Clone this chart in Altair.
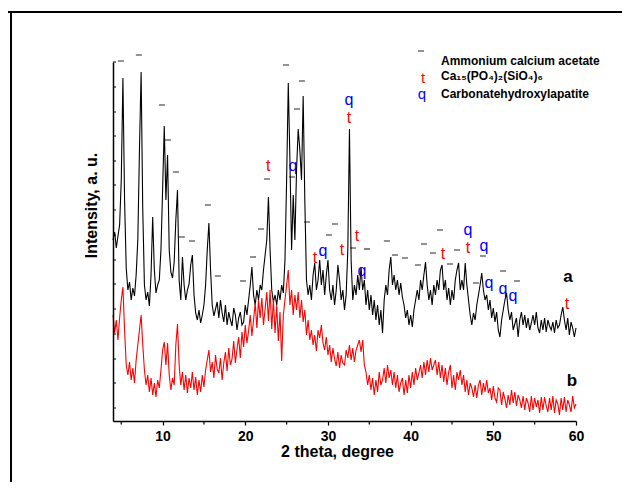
import altair as alt
import pandas as pd

FONT = "Liberation Sans"

# 2-theta sampling grid (degrees), step 0.2
theta = [round(4.0 + 0.2 * i, 1) for i in range(281)]

# trace a (black), intensity a.u.
black_a = [
    181, 189, 173, 185, 196, 241, 343, 221, 153, 131,
    139, 121, 133, 125, 146, 181, 271, 349, 211, 136,
    121, 129, 115, 146, 204, 151, 128, 136, 141, 171,
    231, 295, 221, 266, 171, 149, 143, 159, 201, 231,
    141, 121, 164, 136, 121, 131, 137, 156, 166, 126,
    108, 101, 111, 98, 106, 116, 136, 171, 198, 151,
    116, 105, 112, 119, 103, 121, 108, 99, 116, 96,
    109, 101, 95, 113, 106, 91, 103, 109, 96, 99,
    116, 106, 121, 136, 154, 126, 116, 131, 121, 136,
    131, 151, 166, 181, 224, 171, 131, 119, 126, 116,
    131, 121, 136, 128, 161, 241, 338, 261, 171, 226,
    181, 251, 292, 271, 241, 325, 221, 141, 126, 136,
    121, 146, 158, 131, 141, 161, 136, 151, 126, 146,
    161, 131, 121, 136, 116, 131, 156, 141, 121, 131,
    111, 126, 171, 292, 161, 121, 136, 126, 146, 131,
    154, 131, 141, 116, 131, 111, 126, 106, 121, 101,
    116, 96, 111, 88, 121, 136, 126, 151, 164, 136,
    146, 131, 141, 126, 138, 124, 116, 103, 111, 96,
    106, 94, 111, 121, 131, 121, 141, 131, 146, 159,
    136, 121, 131, 116, 136, 126, 141, 131, 151, 156,
    131, 141, 121, 133, 116, 131, 121, 141, 151, 158,
    131, 141, 131, 158, 136, 121, 106, 96, 108, 101,
    116, 126, 136, 148, 131, 121, 126, 111, 121, 103,
    113, 99, 109, 91, 84, 101, 111, 121, 128, 111,
    101, 109, 91, 97, 103, 84, 101, 109, 96, 106,
    93, 103, 91, 98, 106, 96, 109, 93, 88, 101,
    91, 103, 89, 101, 95, 91, 99, 88, 101, 93,
    96, 106, 114, 101, 91, 103, 86, 99, 93, 84,
    93,
]

# trace b (red)
red_b = [
    106, 88, 101, 81, 103, 121, 134, 91, 56, 46,
    59, 41, 53, 38, 61, 76, 91, 106, 76, 51,
    36, 46, 29, 43, 26, 38, 24, 41, 33, 51,
    71, 79, 56, 78, 46, 31, 43, 36, 76, 97,
    56, 36, 49, 31, 46, 28, 43, 33, 49, 31,
    44, 26, 41, 29, 46, 34, 51, 61, 71, 49,
    59, 43, 66, 52, 48, 63, 41, 58, 69, 50,
    73, 56, 62, 80, 58, 72, 84, 63, 89, 74,
    96, 78, 90, 106, 85, 101, 118, 93, 121, 103,
    123, 96, 112, 129, 100, 131, 92, 121, 88, 116,
    80, 109, 60, 106, 121, 136, 151, 116, 131, 106,
    126, 111, 129, 103, 121, 99, 111, 86, 101, 81,
    91, 76, 86, 70, 91, 83, 96, 78, 71, 84,
    66, 76, 59, 73, 62, 55, 69, 53, 66, 58,
    56, 71, 63, 76, 61, 73, 59, 71, 76, 81,
    69, 81, 56, 49, 36, 46, 31, 43, 26, 41,
    29, 49, 36, 41, 53, 38, 56, 43, 51, 36,
    49, 33, 46, 29, 38, 43, 26, 41, 28, 46,
    33, 49, 36, 53, 41, 48, 56, 43, 59, 46,
    61, 49, 63, 51, 56, 61, 46, 59, 43, 56,
    39, 53, 36, 49, 56, 33, 46, 31, 49, 41,
    51, 36, 46, 29, 41, 26, 38, 33, 24, 36,
    23, 36, 41, 26, 38, 29, 41, 28, 33, 21,
    35, 23, 19, 33, 31, 16, 29, 22, 13, 26,
    16, 31, 18, 29, 15, 26, 21, 13, 25, 11,
    23, 18, 9, 25, 11, 23, 14, 21, 8, 24,
    11, 24, 15, 9, 23, 11, 25, 8, 21, 17,
    6, 23, 11, 24, 9, 21, 16, 9, 25, 13,
    17,
]

# phase markers: "-" ammonium calcium acetate
dash_theta = [4.96, 7.13, 9.92, 10.64, 11.61, 12.33, 13.55, 15.48, 16.69, 19.72,
              20.93, 21.9, 22.62, 24.92, 26.25, 26.85, 25.64, 27.46, 30.12, 30.85,
              33.02, 34.72, 37.13, 38.1, 39.31, 40.88, 41.61, 42.7, 43.55, 44.76,
              45.6, 47.9, 48.75, 51.17, 52.86]
dash_int = [360, 366, 316, 281, 249, 184, 180, 216, 145, 140,
            164, 192, 242, 356, 312, 340, 244, 199, 186, 197,
            173, 172, 180, 166, 163, 156, 177, 168, 191, 157,
            171, 138, 165, 150, 140]
# "t" Ca15(PO4)2(SiO4)6
t_theta = [22.77, 32.55, 28.43, 31.69, 33.5, 43.9, 46.93, 58.9]
t_int = [256, 304, 164, 172, 186, 168, 174, 118]
# "q" carbonatehydroxylapatite
q_theta = [25.76, 32.55, 29.4, 34.11, 46.93, 48.87, 49.48, 51.17, 52.38]
q_int = [253, 319, 168, 148, 189, 173, 136, 130, 123]

trace_labels = ["a", "b"]
label_theta = [59.04, 59.5]
label_int = [144, 40]

y_ticks = [13, 38, 62, 87, 112, 137, 161, 186, 211, 236, 260, 285, 309, 334, 359]
x_major = [10, 20, 30, 40, 50, 60]
x_minor = [5, 15, 25, 35, 45, 55]

legend_texts = ["Ammonium calcium acetate", "Ca₁₅(PO₄)₂(SiO₄)₆", "Carbonatehydroxylapatite"]

W, H = 463, 359
xs = alt.Scale(domain=[4, 60], nice=False, zero=False)
ys = alt.Scale(domain=[0, 359], nice=False, zero=False)

df_a = pd.DataFrame({"theta": theta, "intensity": black_a})
df_b = pd.DataFrame({"theta": theta, "intensity": red_b})
one = pd.DataFrame({"k": [0]})

x_axis = alt.Axis(
    values=x_major, format="d", title="2 theta, degree", grid=False,
    labelFont=FONT, labelFontSize=14, labelFontWeight="bold", labelColor="black",
    labelPadding=4, labelFlush=False, labelOverlap=False,
    tickSize=4, tickColor="black", tickWidth=1.2,
    domainColor="black", domainWidth=1.5,
    titleFont=FONT, titleFontSize=16, titleFontWeight="bold", titleColor="black",
    titleX=224, titleY=35, titleBaseline="alphabetic", zindex=1,
)
y_axis = alt.Axis(
    title="Intensity, a. u.", grid=False, ticks=False, labels=False,
    domainColor="black", domainWidth=1.5,
    titleFont=FONT, titleFontSize=16, titleFontWeight="bold", titleColor="black",
    titleX=-22, titleY=143, titleBaseline="middle", titleAlign="center", zindex=1,
)


def X(field):
    return alt.X(field, type="quantitative", scale=xs, axis=x_axis)


def Y(field):
    return alt.Y(field, type="quantitative", scale=ys, axis=y_axis)


# outer figure frame (top and left edges visible)
frame_top = alt.Chart(one).mark_rule(color="black", strokeWidth=2).encode(
    x=alt.value(-105), x2=alt.value(W + 60), y=alt.value(-50)
)
frame_left = alt.Chart(one).mark_rule(color="black", strokeWidth=2).encode(
    x=alt.value(-102), y=alt.value(-51), y2=alt.value(H + 80)
)

line_a = alt.Chart(df_a).mark_line(color="black", strokeWidth=1.1).encode(
    x=X("theta"), y=Y("intensity"),
)
line_b = alt.Chart(df_b).mark_line(color="#ff0000", strokeWidth=1.1).encode(
    x=X("theta"), y=Y("intensity"),
)

ytick = alt.Chart(pd.DataFrame({"v": y_ticks})).mark_rule(color="black", strokeWidth=1).encode(
    y=Y("v"), x=alt.value(0), x2=alt.value(3)
)
xminor = alt.Chart(pd.DataFrame({"v": x_minor})).mark_rule(color="black", strokeWidth=1.2).encode(
    x=X("v"), y=alt.value(H), y2=alt.value(H + 3.5)
)

dashes = alt.Chart(pd.DataFrame({"t": dash_theta, "i": dash_int})).mark_tick(
    orient="horizontal", size=6, thickness=1.3, color="#111111"
).encode(x=X("t"), y=Y("i"))

tmarks = alt.Chart(pd.DataFrame({"t": t_theta, "i": t_int})).mark_text(
    text="t", font=FONT, fontSize=16, color="#ff0000", baseline="alphabetic", align="center", dy=6
).encode(x=X("t"), y=Y("i"))

qmarks = alt.Chart(pd.DataFrame({"t": q_theta, "i": q_int})).mark_text(
    text="q", font=FONT, fontSize=16, color="#0000ff", baseline="alphabetic", align="center", dy=2.5
).encode(x=X("t"), y=Y("i"))

labels = alt.Chart(pd.DataFrame({"t": label_theta, "i": label_int, "s": trace_labels})).mark_text(
    font=FONT, fontSize=17, fontWeight="bold", color="black", baseline="middle", align="center"
).encode(x=X("t"), y=Y("i"), text="s:N")

# legend
leg_dash = alt.Chart(one).mark_tick(orient="horizontal", size=6, thickness=1.3, color="#111111").encode(
    x=alt.value(308), y=alt.value(-11)
)
leg_t = alt.Chart(one).mark_text(text="t", font=FONT, fontSize=15, color="#ff0000",
                                 baseline="alphabetic", align="center").encode(
    x=alt.value(310), y=alt.value(20.5))
leg_q = alt.Chart(one).mark_text(text="q", font=FONT, fontSize=15, color="#0000ff",
                                 baseline="alphabetic", align="center").encode(
    x=alt.value(309), y=alt.value(36.5))
leg_texts = []
for txt, yy in zip(legend_texts, [2.5, 18, 36]):
    leg_texts.append(
        alt.Chart(one).mark_text(text=txt, font=FONT, fontSize=12, fontWeight="bold", color="black",
                                 baseline="alphabetic", align="left").encode(
            x=alt.value(328), y=alt.value(yy))
    )

chart = alt.layer(
    line_a, line_b, frame_top, frame_left, ytick, xminor, dashes, tmarks, qmarks, labels,
    leg_dash, leg_t, leg_q, *leg_texts
).properties(
    width=W, height=H,
    padding={"left": 105, "top": 54, "right": 46, "bottom": 61},
    autosize=alt.AutoSizeParams(type="none"),
).configure(background="white").configure_view(stroke=None)

chart.save("out.html", embed_options={"renderer": "svg", "actions": False})
